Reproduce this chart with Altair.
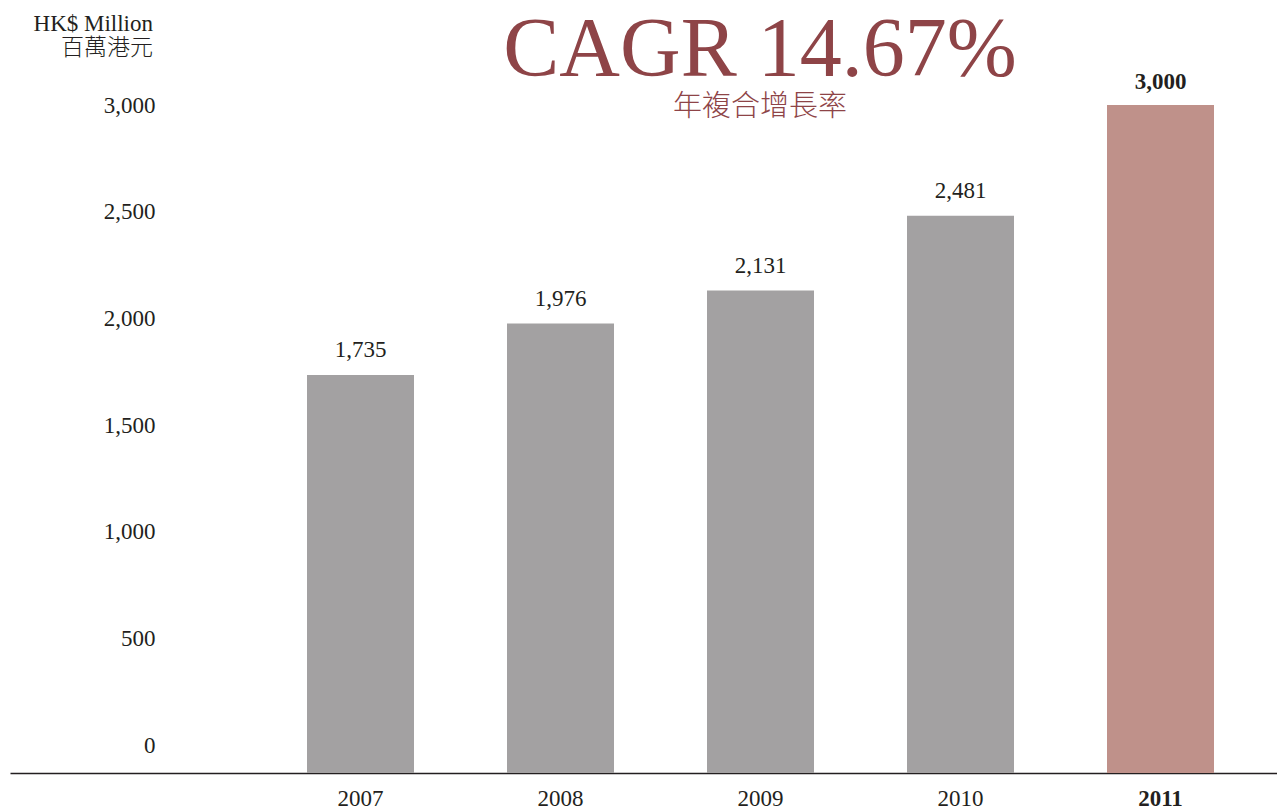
import altair as alt
import pandas as pd

# ---- data ----
years = ["2007", "2008", "2009", "2010", "2011"]
values = [1735, 1976, 2131, 2481, 3000]
y_ticks = [0, 500, 1000, 1500, 2000, 2500, 3000]
highlight = "2011"
title_text = ["CAGR 14.67%"]
subtitle_text = ["年複合增長率"]
unit_en = ["HK$ Million"]
unit_zh = ["百萬港元"]

df = pd.DataFrame({"year": years, "value": values})

SERIF = "Liberation Serif"
CJK = "Noto Sans CJK TC"
INK = "#231f20"
GRAY = "#a3a1a2"
ROSE = "#bf918a"
RED = "#8e4447"

W, H = 1267, 668
Y_MIN = -129

x_enc = alt.X(
    "year:N",
    sort=years,
    scale=alt.Scale(paddingInner=0.465, paddingOuter=0.9, align=0.825),
    axis=alt.Axis(
        title=None, labelAngle=0, domainColor=INK, domainWidth=1.5,
        ticks=False, tickSize=0, labelPadding=14, labelFont=SERIF,
        labelFontSize=23, labelColor=INK,
        labelFontWeight={"condition": {"test": f"datum.label == '{highlight}'", "value": "bold"}, "value": "normal"},
    ),
)
y_enc = alt.Y(
    "value:Q",
    scale=alt.Scale(domain=[Y_MIN, 3000], nice=False, zero=False),
    axis=alt.Axis(
        title=None, values=y_ticks, format=",.0f", domain=False, ticks=False,
        tickSize=0, grid=False, labelPadding=0, offset=-145,
        labelFont=SERIF, labelFontSize=23, labelColor=INK,
    ),
)

base = alt.Chart(df)

bars = base.mark_bar().encode(
    x=x_enc,
    y=y_enc,
    y2=alt.datum(Y_MIN),
    color=alt.condition(alt.datum.year == highlight, alt.value(ROSE), alt.value(GRAY)),
)

labels_normal = base.transform_filter(alt.datum.year != highlight).mark_text(
    dy=-18, baseline="alphabetic", font=SERIF, fontSize=23, color=INK
).encode(x=x_enc, y=y_enc, text=alt.Text("value:Q", format=",.0f"))

labels_bold = base.transform_filter(alt.datum.year == highlight).mark_text(
    dy=-16, baseline="alphabetic", font=SERIF, fontSize=23, color=INK, fontWeight="bold"
).encode(x=x_enc, y=y_enc, text=alt.Text("value:Q", format=",.0f"))


def note(txt, x, y, **kw):
    return alt.Chart(pd.DataFrame({"t": txt})).mark_text(**kw).encode(
        x=alt.value(x), y=alt.value(y), text="t:N"
    )


title = note(title_text, 750, -29, font=SERIF, fontSize=84, color=RED,
             baseline="alphabetic", align="center")
subtitle = note(subtitle_text, 750, 2, font=CJK, fontSize=29, color=RED,
                baseline="middle", align="center", fontWeight=300)
u_en = note(unit_en, 143, -81, font=SERIF, fontSize=23, color=INK,
            baseline="middle", align="right")
u_zh = note(unit_zh, 143, -57, font=CJK, fontSize=23, color=INK,
            baseline="middle", align="right", fontWeight=300)

chart = alt.layer(bars, labels_normal, labels_bold, title, subtitle, u_en, u_zh).properties(
    width=W,
    height=H,
    autosize=alt.AutoSizeParams(type="none"),
    padding={"left": 2, "top": 97, "right": 0, "bottom": 37},
    background="white",
).configure_view(stroke=None)

chart.save("out.html", embed_options={"renderer": "svg", "actions": False})
